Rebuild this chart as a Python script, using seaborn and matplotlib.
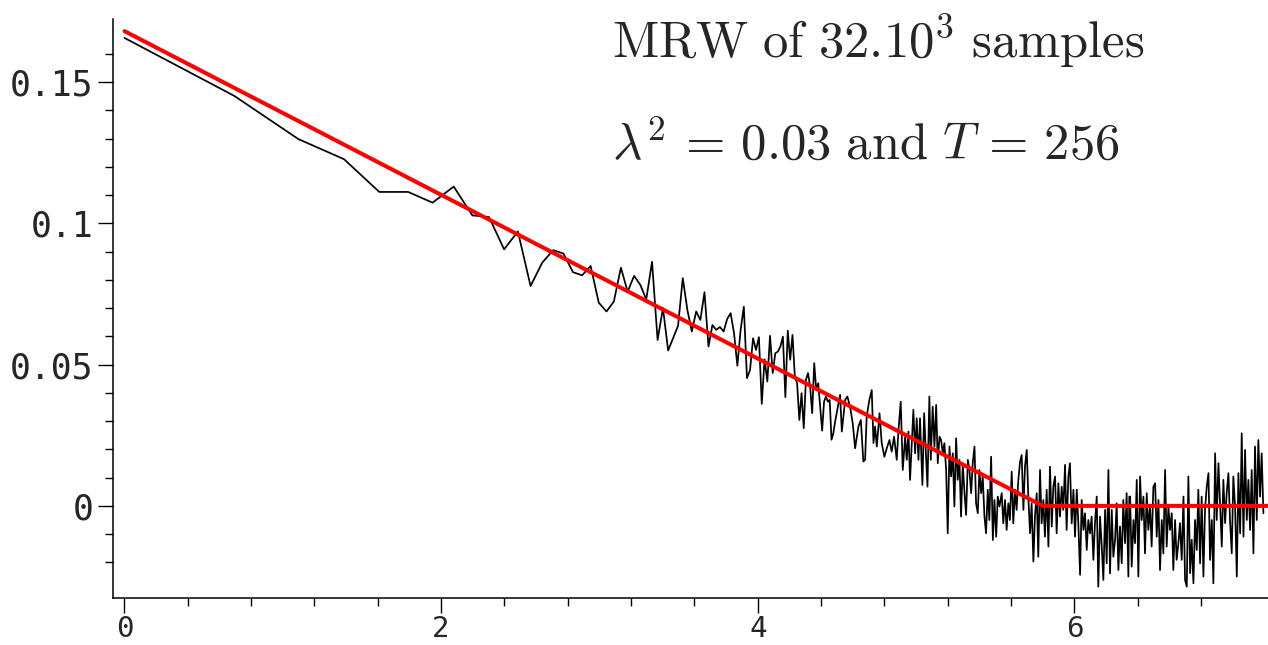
import numpy as np
import pandas as pd
import matplotlib
matplotlib.use("Agg")
import matplotlib.pyplot as plt
import seaborn as sns
from matplotlib.ticker import FixedLocator

# ---------------- data ----------------
# sparse part: integer lags 1..89, x = ln(lag)
lag_sparse = list(range(1, 90))
val_sparse = [
    0.1656, 0.1451, 0.1298, 0.1227, 0.1111, 0.1111, 0.1073, 0.1130, 0.1028, 0.1022,
    0.0908, 0.0971, 0.0778, 0.0861, 0.0905, 0.0893, 0.0827, 0.0816, 0.0849, 0.0719,
    0.0688, 0.0723, 0.0843, 0.0758, 0.0814, 0.0782, 0.0731, 0.0864, 0.0587, 0.0700,
    0.0550, 0.0594, 0.0637, 0.0806, 0.0694, 0.0617, 0.0688, 0.0658, 0.0756, 0.0564,
    0.0640, 0.0623, 0.0633, 0.0617, 0.0661, 0.0682, 0.0611, 0.0496, 0.0623, 0.0705,
    0.0452, 0.0481, 0.0593, 0.0552, 0.0597, 0.0361, 0.0519, 0.0440, 0.0602, 0.0470,
    0.0540, 0.0546, 0.0564, 0.0599, 0.0385, 0.0620, 0.0517, 0.0605, 0.0458, 0.0434,
    0.0304, 0.0399, 0.0275, 0.0446, 0.0470, 0.0422, 0.0328, 0.0505, 0.0410, 0.0434,
    0.0351, 0.0266, 0.0369, 0.0387, 0.0369, 0.0375, 0.0234, 0.0257, 0.0298,
]

# dense part: positions already on the log-lag axis
logx_dense = [
    4.520, 4.531, 4.552, 4.566, 4.583, 4.600, 4.615, 4.636, 4.651, 4.667, 4.678, 4.688,
    4.705, 4.720, 4.731, 4.741, 4.752, 4.769, 4.783, 4.800, 4.815, 4.832, 4.846, 4.861,
    4.878, 4.889, 4.903, 4.916, 4.931, 4.941, 4.952, 4.962, 4.973, 4.983, 4.994, 5.004,
    5.015, 5.025, 5.040, 5.051, 5.063, 5.072, 5.084, 5.093, 5.105, 5.116, 5.127, 5.137,
    5.148, 5.158, 5.169, 5.179, 5.190, 5.200, 5.211, 5.221, 5.232, 5.242, 5.253, 5.263,
    5.274, 5.284, 5.295, 5.306, 5.316, 5.327, 5.337, 5.348, 5.358, 5.369, 5.379, 5.390,
    5.400, 5.411, 5.421, 5.432, 5.442, 5.453, 5.463, 5.474, 5.485, 5.495, 5.506, 5.516,
    5.527,
    5.541, 5.551, 5.562, 5.572, 5.583, 5.593, 5.604, 5.614, 5.625, 5.635, 5.646, 5.657,
    5.667, 5.678, 5.688, 5.699, 5.709, 5.720, 5.730, 5.741, 5.751, 5.762, 5.772, 5.783,
    5.793, 5.804, 5.814, 5.825, 5.836, 5.846, 5.857, 5.867, 5.878, 5.888, 5.899, 5.909,
    5.920, 5.930, 5.941, 5.951, 5.962, 5.972, 5.983, 5.994, 6.004, 6.015, 6.025, 6.036,
    6.046, 6.057, 6.067, 6.078, 6.088, 6.099, 6.109, 6.120, 6.130, 6.141, 6.151, 6.162,
    6.173, 6.183, 6.194, 6.204, 6.215, 6.225, 6.236, 6.246, 6.257, 6.267, 6.278, 6.288,
    6.299, 6.309, 6.320, 6.330, 6.341, 6.347,
    6.352, 6.362, 6.373, 6.383, 6.394, 6.404, 6.415, 6.425, 6.436, 6.446, 6.457, 6.467,
    6.478, 6.488, 6.499, 6.510, 6.520, 6.531, 6.541, 6.552, 6.562, 6.573, 6.583, 6.594,
    6.604, 6.615, 6.625, 6.636, 6.646, 6.657, 6.667, 6.678, 6.689, 6.699, 6.710, 6.720,
    6.731, 6.741, 6.752, 6.762, 6.773, 6.783, 6.794, 6.804, 6.815, 6.825, 6.836, 6.847,
    6.857, 6.868, 6.878, 6.889, 6.899, 6.910, 6.920, 6.931, 6.941, 6.952, 6.962, 6.973,
    6.983, 6.994, 7.004, 7.015, 7.026, 7.036, 7.047, 7.057, 7.068, 7.078, 7.089, 7.099,
    7.110, 7.120, 7.131, 7.141, 7.152, 7.162, 7.173, 7.183, 7.194,
]
val_dense = [
    0.0393, 0.0263, 0.0375, 0.0387, 0.0351, 0.0292, 0.0204, 0.0281, 0.0304, 0.0157, 0.0163, 0.0316,
    0.0375, 0.0410, 0.0222, 0.0281, 0.0210, 0.0328, 0.0222, 0.0174, 0.0204, 0.0233, 0.0192, 0.0245,
    0.0163, 0.0269, 0.0369, 0.0127, 0.0245, 0.0163, 0.0263, 0.0092, 0.0222, 0.0340, 0.0186, 0.0310,
    0.0163, 0.0310, 0.0074, 0.0328, 0.0174, 0.0068, 0.0387, 0.0163, 0.0351, 0.0210, 0.0357, 0.0151,
    0.0245, 0.0233, 0.0186, 0.0222, 0.0127, -0.0097, 0.0210, 0.0104, 0.0186, -0.0002, 0.0239, 0.0092,
    0.0163, -0.0038, 0.0151, 0.0045, -0.0032, 0.0163, 0.0127, 0.0045, 0.0151, 0.0210, 0.0009, -0.0026,
    0.0127, 0.0045, 0.0104, -0.0038, -0.0097, 0.0057, -0.0050, 0.0174, -0.0121, 0.0021, -0.0109, 0.0033,
    -0.0002,
    0.0045, -0.0062, 0.0021, -0.0085, 0.0009, -0.0050, 0.0121, -0.0062, 0.0057, -0.0014, 0.0092, 0.0157,
    0.0180, -0.0014, 0.0139, 0.0198, 0.0033, -0.0097, 0.0009, -0.0197, -0.0038, 0.0045, -0.0180, 0.0127,
    -0.0062, 0.0021, -0.0109, 0.0057, -0.0144, 0.0139, -0.0073, 0.0068, 0.0104, -0.0097, 0.0080, -0.0038,
    0.0068, -0.0014, 0.0145, -0.0085, 0.0104, 0.0151, -0.0062, 0.0057, -0.0109, 0.0057, -0.0062, -0.0244,
    0.0021, -0.0085, -0.0026, -0.0156, -0.0050, -0.0097, -0.0038, -0.0191, -0.0062, 0.0033, -0.0286, -0.0038,
    -0.0144, -0.0262, -0.0014, -0.0203, 0.0127, -0.0239, -0.0014, -0.0180, -0.0121, 0.0009, -0.0227, -0.0073,
    -0.0203, 0.0021, -0.0132, 0.0045, -0.0250, 0.0033,
    0.0033, -0.0215, -0.0050, -0.0132, 0.0092, -0.0250, 0.0104, -0.0050, 0.0033, -0.0168, 0.0045, -0.0085,
    -0.0002, -0.0144, 0.0068, 0.0080, -0.0109, 0.0021, -0.0227, -0.0050, -0.0168, 0.0127, -0.0144, -0.0002,
    -0.0085, -0.0026, -0.0227, -0.0050, -0.0191, -0.0132, -0.0061, -0.0191, 0.0033, -0.0262, -0.0286, 0.0104,
    -0.0238, -0.0120, -0.0274, -0.0050, -0.0156, 0.0057, -0.0203, 0.0033, -0.0250, -0.0014, 0.0068, 0.0116,
    -0.0191, -0.0050, -0.0274, 0.0186, -0.0050, 0.0151, 0.0009, -0.0144, 0.0092, -0.0061, 0.0045, 0.0116,
    -0.0050, -0.0168, 0.0104, -0.0002, -0.0250, 0.0116, -0.0097, 0.0257, -0.0109, 0.0198, -0.0050, 0.0092,
    -0.0085, 0.0127, -0.0168, 0.0210, -0.0050, 0.0233, 0.0033, 0.0186, -0.0026,
]

# red reference curve (breakpoints on the log-lag axis)
red_x = [0.0, 5.80, 7.25]
red_val = [0.168, 0.0, 0.0]

title_line1 = r"$\mathrm{MRW\ of\ }32.10^3\mathrm{\ samples}$"
title_line2 = r"$\lambda^2\,=\,0.03\ \mathrm{and}\ T\,=\,256$"

x_major = [0, 2, 4, 6]
x_minor = [0.4, 0.8, 1.2, 1.6, 2.4, 2.8, 3.2, 3.6, 4.4, 4.8, 5.2, 5.6, 6.4, 6.8]
y_major = [0.0, 0.05, 0.1, 0.15]
y_major_labels = ["0", "0.05", "0.1", "0.15"]
y_minor = [-0.02, -0.01, 0.01, 0.02, 0.03, 0.04, 0.06, 0.07, 0.08, 0.09,
           0.11, 0.12, 0.13, 0.14, 0.16]

# ---------------- build frames ----------------
black_df = pd.DataFrame({
    "x": np.concatenate([np.log(lag_sparse), np.array(logx_dense)]),
    "y": np.concatenate([np.array(val_sparse), np.array(val_dense)]),
})
red_df = pd.DataFrame({"x": red_x, "y": red_val})

# ---------------- style ----------------
sns.set_style("ticks")
plt.rcParams["font.family"] = ["DejaVu Sans Mono", "DejaVu Sans"]
plt.rcParams["mathtext.fontset"] = "cm"

fig = plt.figure(figsize=(12.68, 6.45), dpi=100)
ax = fig.add_axes([113 / 1268, 47 / 645, 1 - 113 / 1268, (598 - 19) / 645])

sns.lineplot(data=black_df, x="x", y="y", ax=ax, color="black", lw=1.25,
             estimator=None, sort=False)
sns.lineplot(data=red_df, x="x", y="y", ax=ax, color="#ff0000", lw=2.9,
             estimator=None, sort=False)

ax.set_xlim(-0.0726, 7.223)
ax.set_ylim(-0.0326, 0.1723)

for s in ["top", "right"]:
    ax.spines[s].set_visible(False)
for s in ["left", "bottom"]:
    ax.spines[s].set_linewidth(1.1)
    ax.spines[s].set_color("black")

ax.xaxis.set_major_locator(FixedLocator(x_major))
ax.xaxis.set_minor_locator(FixedLocator(x_minor))
ax.yaxis.set_major_locator(FixedLocator(y_major))
ax.yaxis.set_minor_locator(FixedLocator(y_minor))
ax.set_xticklabels([str(v) for v in x_major])
ax.set_yticklabels(y_major_labels)

ax.tick_params(axis="both", which="major", length=11, width=1.0, color="black",
               direction="out")
ax.tick_params(axis="x", which="major", labelsize=21, pad=1.5)
ax.tick_params(axis="y", which="major", labelsize=25, pad=3)
ax.tick_params(axis="both", which="minor", length=5.5, width=1.0, color="black",
               direction="out")
ax.set_xlabel("")
ax.set_ylabel("")

fig.text(612 / 1268, 1 - 57 / 645, title_line1, fontsize=36.5, ha="left", va="baseline")
fig.text(612 / 1268, 1 - 160 / 645, title_line2, fontsize=36.5, ha="left", va="baseline")

fig.savefig("out.png", dpi=100, facecolor="white")
